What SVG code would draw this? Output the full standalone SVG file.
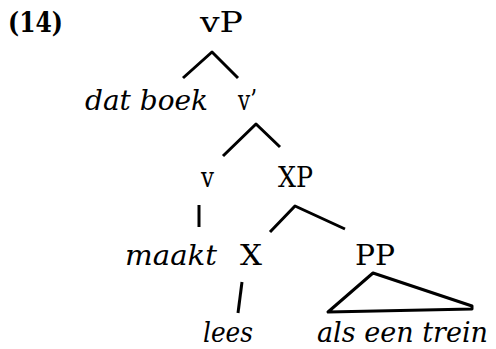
<svg xmlns="http://www.w3.org/2000/svg" width="496" height="349" viewBox="0 0 496 349">
<style>
text{font-family:"DejaVu Serif","Liberation Serif",serif;font-size:27px;fill:#000}
.it{font-style:italic}
.b{font-weight:bold;font-size:27px}
.e{stroke:#000;stroke-width:3;fill:none;stroke-linecap:butt;stroke-linejoin:round}
</style>
<rect width="496" height="349" fill="#fff"/>
<text class="b" x="8" y="32" textLength="55" lengthAdjust="spacingAndGlyphs">(14)</text>
<g id="vP"><text x="200" y="32" textLength="43" lengthAdjust="spacingAndGlyphs">vP</text></g>
<g id="datboek"><text class="it" x="85" y="110" textLength="123" lengthAdjust="spacingAndGlyphs">dat boek</text></g>
<g id="vbar"><text x="238" y="110" textLength="19" lengthAdjust="spacingAndGlyphs">v’</text></g>
<g id="v"><text x="201" y="187" textLength="13" lengthAdjust="spacingAndGlyphs">v</text></g>
<g id="XP"><text x="278" y="187" textLength="35" lengthAdjust="spacingAndGlyphs">XP</text></g>
<g id="maakt"><text class="it" x="125" y="265" textLength="92" lengthAdjust="spacingAndGlyphs">maakt</text></g>
<g id="X"><text x="240" y="265" textLength="22" lengthAdjust="spacingAndGlyphs">X</text></g>
<g id="PP"><text x="355" y="265" textLength="40" lengthAdjust="spacingAndGlyphs">PP</text></g>
<g id="lees"><text class="it" x="203" y="342" textLength="50" lengthAdjust="spacingAndGlyphs">lees</text></g>
<g id="alseentrein"><text class="it" x="317" y="342" textLength="171" lengthAdjust="spacingAndGlyphs">als een trein</text></g>
<g id="connectors" class="e">
<polyline points="183,78 212,52 238,78"/>
<polyline points="223,156 256,124 280,147"/>
<line x1="199" y1="205" x2="199" y2="227"/>
<polyline points="270,232 295,206 345,229"/>
<line x1="242" y1="282" x2="238" y2="313"/>
<polygon points="373,273 328,312 472,309 472,306"/>
</g>
</svg>
